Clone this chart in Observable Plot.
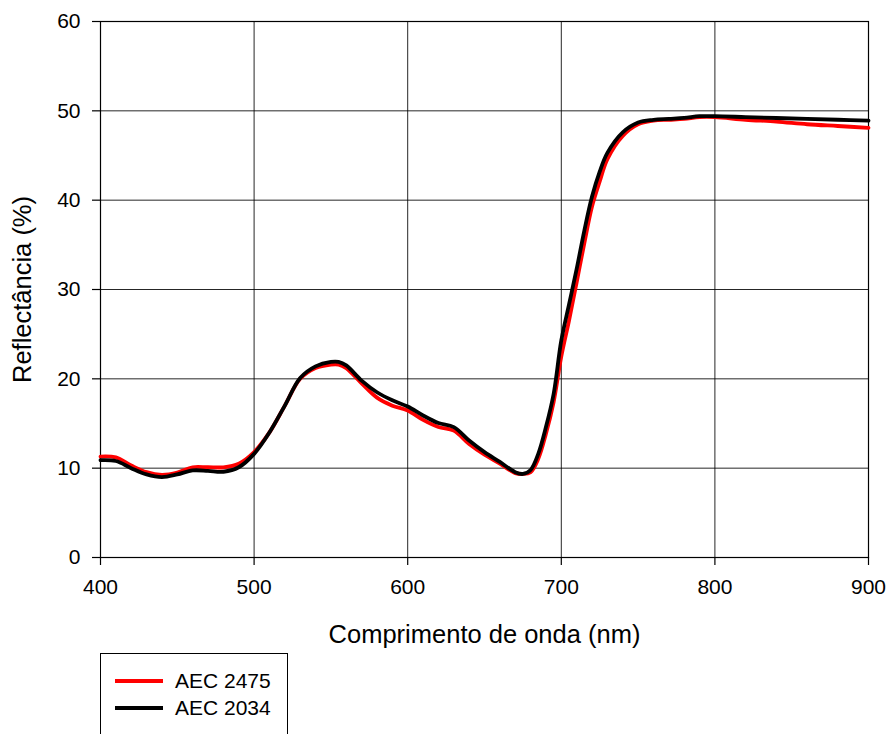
<!DOCTYPE html>
<html>
<head>
<meta charset="utf-8">
<script src="https://cdn.jsdelivr.net/npm/d3@7"></script>
<script src="https://cdn.jsdelivr.net/npm/@observablehq/plot@0.6"></script>
<style>
  body { margin: 0; background: white; font-family: "Liberation Sans", Arial, sans-serif; }
  #legend { position: absolute; left: 100px; top: 653px; width: 188px; height: 100px; border: 1.5px solid #000; box-sizing: border-box; }
  .item { position: absolute; left: 14px; height: 24px; line-height: 24px; font-size: 21px; display: flex; align-items: center; }
  .sw { width: 48px; height: 4px; margin-right: 12px; }
</style>
</head>
<body>
<div id="chart"></div>
<div id="legend">
  <div class="item" style="top:15px"><span class="sw" style="background:#ff0000"></span>AEC 2475</div>
  <div class="item" style="top:42px"><span class="sw" style="background:#000"></span>AEC 2034</div>
</div>
<script>
const wavelengths = [400,410,420,430,440,450,460,470,480,490,500,510,520,530,540,550,555,560,570,580,590,600,610,620,630,640,650,660,670,675,680,685,690,695,700,705,710,715,720,725,730,740,750,760,770,780,790,800,820,840,860,880,900];
const aec2475 = [11.3,11.2,10.3,9.55,9.25,9.5,10.1,10.1,10.1,10.5,11.8,14.0,17.0,20.0,21.2,21.6,21.6,21.2,19.5,17.9,17.0,16.45,15.4,14.6,14.2,12.7,11.5,10.5,9.45,9.35,9.55,11.05,13.85,17.4,22.5,26.5,30.8,35.2,39.3,42.1,44.6,47.2,48.5,48.9,49.0,49.1,49.3,49.3,49.0,48.8,48.5,48.3,48.1];
const aec2034 = [10.9,10.8,10.0,9.3,9.0,9.3,9.75,9.7,9.6,10.1,11.6,14.0,17.0,20.1,21.4,21.9,21.9,21.5,19.8,18.5,17.6,16.9,15.9,15.05,14.6,13.1,11.8,10.7,9.55,9.35,9.8,11.6,14.6,18.3,24.3,28.3,32.3,36.6,40.4,43.2,45.3,47.6,48.7,49.0,49.1,49.2,49.4,49.4,49.3,49.2,49.1,49.0,48.9];
const xTicks = [400,500,600,700,800,900];
const yTicks = [0,10,20,30,40,50,60];
const xLabel = "Comprimento de onda (nm)";
const yLabel = "Reflectância (%)";

const red = wavelengths.map((w,i) => ({w, v: aec2475[i]}));
const black = wavelengths.map((w,i) => ({w, v: aec2034[i]}));

const chart = Plot.plot({
  width: 890, height: 650,
  marginLeft: 100, marginRight: 22, marginTop: 21, marginBottom: 93,
  x: {domain: [400, 900]},
  y: {domain: [0, 60]},
  style: {fontFamily: "'Liberation Sans', Arial, sans-serif", fontSize: "21px", background: "white", color: "#000"},
  marks: [
    Plot.gridX(xTicks, {stroke: "#000", strokeOpacity: 0.85, strokeWidth: 1}),
    Plot.gridY(yTicks, {stroke: "#000", strokeOpacity: 0.85, strokeWidth: 1}),
    Plot.frame({stroke: "#000", strokeWidth: 1.2}),
    Plot.line(red, {x: "w", y: "v", stroke: "#ff0000", strokeWidth: 3.8, curve: "catmull-rom"}),
    Plot.line(black, {x: "w", y: "v", stroke: "#000", strokeWidth: 3.8, curve: "catmull-rom"}),
    Plot.axisX(xTicks, {tickSize: 8, tickPadding: 14, label: null, fontSize: 21, strokeWidth: 1.2}),
    Plot.axisY(yTicks, {tickSize: 8, tickPadding: 12, label: null, fontSize: 21, strokeWidth: 1.2}),
    Plot.text([xLabel], {frameAnchor: "bottom", dy: 77, fontSize: 25.5, textAnchor: "middle", lineAnchor: "middle", text: d => d}),
    Plot.text([yLabel], {frameAnchor: "left", dx: -78, rotate: -90, fontSize: 25.5, textAnchor: "middle", lineAnchor: "middle", text: d => d})
  ]
});
document.getElementById("chart").appendChild(chart);
</script>
</body>
</html>
